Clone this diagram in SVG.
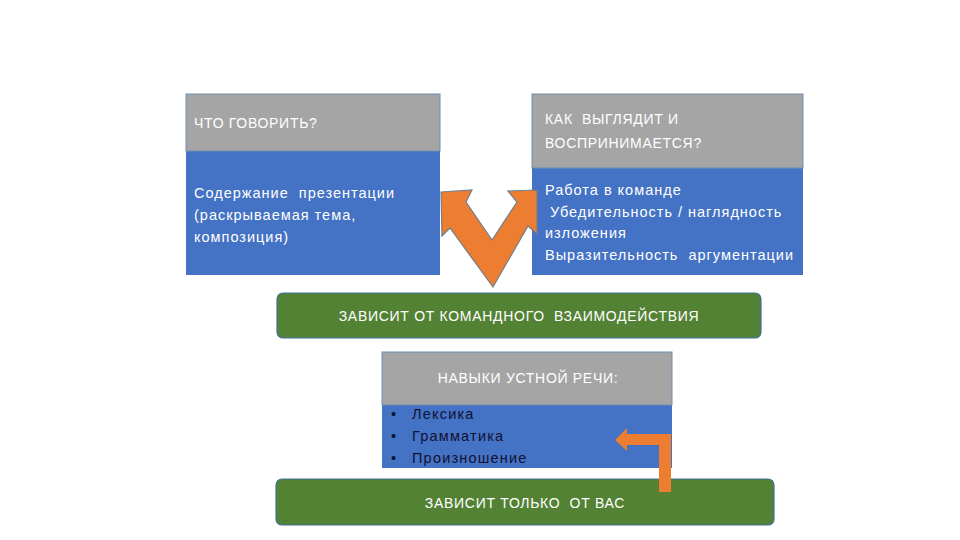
<svg xmlns="http://www.w3.org/2000/svg" width="960" height="540" viewBox="0 0 960 540">
<style>
text{white-space:pre}
.hdr{fill:#A5A5A5;stroke:#6F8FAF;stroke-width:1}
.body{fill:#4472C4;stroke:none}
.grn{fill:#548235;stroke:#41719C;stroke-width:1.2}
.wt{font-family:"Liberation Sans",Arial,sans-serif;fill:#ffffff;font-size:14px;letter-spacing:0.7px}
.wb{font-family:"Liberation Sans",Arial,sans-serif;fill:#ffffff;font-size:14.5px;letter-spacing:1px}
.dk{font-family:"Liberation Sans",Arial,sans-serif;fill:#111133;font-size:14.5px;letter-spacing:1.2px}
.arr{fill:#ED7D31;stroke:#6E7F8F;stroke-width:1.2;stroke-linejoin:miter}
</style>
<rect width="960" height="540" fill="#ffffff"/>
<g id="box-what">
<rect class="body" x="186" y="151" width="254" height="124"/>
<rect class="hdr" x="186" y="94" width="254" height="57"/>
<text class="wt" x="194" y="128">ЧТО ГОВОРИТЬ?</text>
<text class="wb" x="194" y="198">Содержание  презентации</text>
<text class="wb" x="194" y="220">(раскрываемая тема,</text>
<text class="wb" x="194" y="242">композиция)</text>
</g>
<g id="box-how">
<rect class="body" x="532" y="168" width="271" height="107"/>
<rect class="hdr" x="532" y="94" width="271" height="74"/>
<text class="wt" x="545" y="124">КАК  ВЫГЛЯДИТ И</text>
<text class="wt" x="545" y="148">ВОСПРИНИМАЕТСЯ?</text>
<text class="wb" x="545" y="195">Работа в команде</text>
<text class="wb" x="545" y="217"> Убедительность / наглядность</text>
<text class="wb" x="545" y="238">изложения</text>
<text class="wb" x="545" y="260">Выразительность  аргументации</text>
</g>
<g id="team">
<rect class="grn" x="277" y="293" width="484" height="45" rx="6"/>
<text class="wt" x="519" y="321" text-anchor="middle">ЗАВИСИТ ОТ КОМАНДНОГО  ВЗАИМОДЕЙСТВИЯ</text>
</g>
<g id="skills">
<rect class="body" x="382" y="405" width="290" height="63"/>
<rect class="hdr" x="382" y="352" width="290" height="53"/>
<text class="wt" x="528" y="383" text-anchor="middle">НАВЫКИ УСТНОЙ РЕЧИ:</text>
<text class="dk" x="391" y="419">•</text>
<text class="dk" x="412" y="419">Лексика</text>
<text class="dk" x="391" y="441">•</text>
<text class="dk" x="412" y="441">Грамматика</text>
<text class="dk" x="391" y="463">•</text>
<text class="dk" x="412" y="463">Произношение</text>
</g>
<g id="you">
<rect class="grn" x="276" y="479" width="498" height="46" rx="6"/>
<text class="wt" x="525" y="508" text-anchor="middle">ЗАВИСИТ ТОЛЬКО  ОТ ВАС</text>
</g>
<g id="connectors">
<polygon class="arr" points="441,192 472,190 466,202 492,240 517,202 508,191 537,190 537,234 528,226 493,287 450,228 442,236"/>
<polygon fill="#ED7D31" points="615,440 627,428 627,434 671,434 671,492 659,492 659,445 627,445 627,451"/>
</g>
</svg>
